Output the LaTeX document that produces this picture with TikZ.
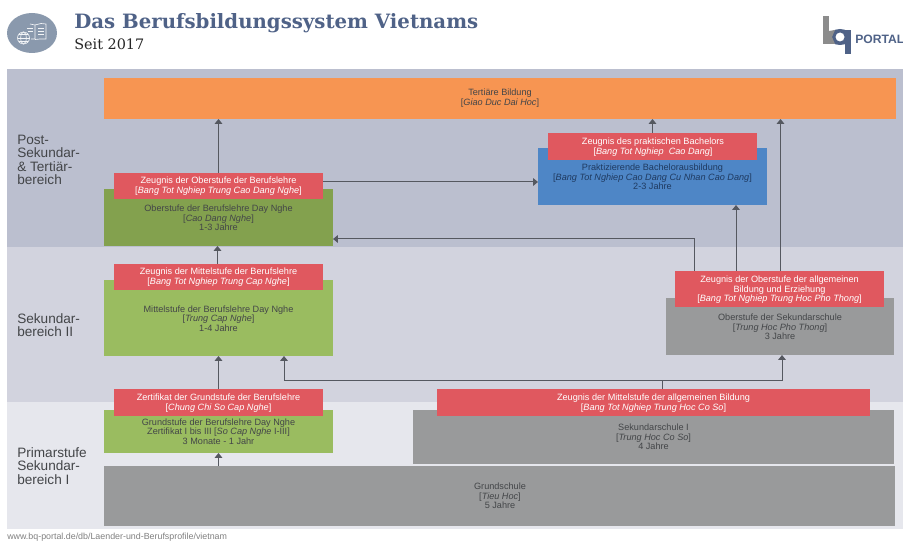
\documentclass[tikz,border=0pt]{standalone}
\usepackage{fontspec}
\setmainfont{Liberation Sans}
\newfontfamily\slab{DejaVu Serif}
\usetikzlibrary{arrows.meta}
\definecolor{bandA}{HTML}{BBBFCF}
\definecolor{bandB}{HTML}{D2D3DE}
\definecolor{bandC}{HTML}{E6E7ED}
\definecolor{cRed}{HTML}{E0585F}
\definecolor{cOrange}{HTML}{F79552}
\definecolor{cDark}{HTML}{83A14E}
\definecolor{cGreen}{HTML}{9ABC60}
\definecolor{cBlue}{HTML}{4E86C6}
\definecolor{cGrey}{HTML}{999A9B}
\definecolor{cTitle}{HTML}{4F6287}
\definecolor{cIcon}{HTML}{8A99AD}
\definecolor{cLine}{HTML}{555860}
\definecolor{cText}{HTML}{434548}
\definecolor{cBlueText}{HTML}{1F3A60}
\newcommand{\rbox}[6]{%
  \pgfmathsetmacro{\rw}{0.75*(#4-#2)}%
  \pgfmathsetmacro{\rh}{0.75*(#5-#3)}%
  \node[rbx,#6,minimum width=\rw pt,minimum height=\rh pt] (#1) at ({(#2+#4)/2},{(#3+#5)/2}) {};}
\tikzset{
  x=0.75pt,y=-0.75pt,
  rbx/.style={inner sep=0pt,outer sep=0pt,draw=none},
  redbox/.style={fill=cRed},
  lbl/.style={align=center,font=\fontsize{6.85pt}{7.2pt}\selectfont,text=cText,inner sep=0pt},
  lblw/.style={lbl,text=white},
  side/.style={align=left,anchor=west,font=\fontsize{10.2pt}{10pt}\selectfont,text=cText,inner sep=0pt},
  arr/.style={draw=cLine,line width=0.75pt,-{Triangle[width=5.6pt,length=3.6pt]}},
  lin/.style={draw=cLine,line width=0.75pt},
}
\begin{document}
\begin{tikzpicture}
\useasboundingbox (0,0) rectangle (903,541);
% bands
\rbox{bandpost}{7}{69}{903}{247}{fill=bandA}
\rbox{bandsek}{7}{247}{903}{402}{fill=bandB}
\rbox{bandprim}{7}{402}{903}{529}{fill=bandC}
% boxes
\rbox{orange}{104}{78}{896}{119}{fill=cOrange}
\rbox{gdark}{104}{189}{333}{246}{fill=cDark}
\rbox{gmid}{104}{280}{333}{356}{fill=cGreen}
\rbox{gbase}{104}{410}{333}{453}{fill=cGreen}
\rbox{grund}{104}{466}{895}{526}{fill=cGrey}
\rbox{seki}{413}{410}{894}{464}{fill=cGrey}
\rbox{oberg}{666}{298}{894}{355}{fill=cGrey}
\rbox{blue}{538}{148}{767}{205}{fill=cBlue}
\rbox{rober}{114}{173}{323}{199}{redbox}
\rbox{rmid}{114}{264}{323}{290}{redbox}
\rbox{rgrund}{114}{389}{323}{416}{redbox}
\rbox{rseki}{437}{389}{870}{416}{redbox}
\rbox{rallg}{675}{271}{884}{307}{redbox}
\rbox{rbach}{548}{133}{757}{160}{redbox}
% connectors
\coordinate (a1) at (323,182);
\coordinate (j1) at (694,239);
\coordinate (j2) at (284,381);
\coordinate (j3) at (782,381);
\coordinate (j4) at (662,381);
\coordinate (v1) at (736,271);
\coordinate (v2) at (780.5,271);
\coordinate (v3) at (652.5,133);
\coordinate (v4) at (217.5,264);
\draw[arr] (rober.north) -- (rober.north |- orange.south);
\draw[arr] (v4) -- (v4 |- gdark.south);
\draw[arr] (rgrund.north) -- (rgrund.north |- gmid.south);
\draw[arr] (j2) -- (j2 |- gmid.south);
\draw[lin] (j2) -- (j3);
\draw[arr] (j3) -- (j3 |- oberg.south);
\draw[lin] (j4) -- (j4 |- rseki.north);
\draw[arr] (grund.north -| rgrund.north) -- (rgrund.north |- gbase.south);
\draw[arr] (a1) -- (a1 -| blue.west);
\draw[arr] (j1 |- rallg.north) -- (j1) -- (j1 -| gdark.east);
\draw[arr] (v1) -- (v1 |- blue.south);
\draw[arr] (v2) -- (v2 |- orange.south);
\draw[arr] (v3) -- (v3 |- orange.south);
% box texts
\node[lbl] (t1) at (500,98) {Tertiäre Bildung\\{}[\textit{Giao Duc Dai Hoc}]};
\node[lblw] (t2) at (218.5,186) {Zeugnis der Oberstufe der Berufslehre\\{}[\textit{Bang Tot Nghiep Trung Cao Dang Nghe}]};
\node[lbl] (t3) at (218.5,218) {Oberstufe der Berufslehre Day Nghe\\{}[\textit{Cao Dang Nghe}]\\1-3 Jahre};
\node[lblw] (t4) at (218.5,277) {Zeugnis der Mittelstufe der Berufslehre\\{}[\textit{Bang Tot Nghiep Trung Cap Nghe}]};
\node[lbl] (t5) at (218.5,318.5) {Mittelstufe der Berufslehre Day Nghe\\{}[\textit{Trung Cap Nghe}]\\1-4 Jahre};
\node[lblw] (t6) at (218.5,403) {Zertifikat der Grundstufe der Berufslehre\\{}[\textit{Chung Chi So Cap Nghe}]};
\node[lbl] (t7) at (218.5,431.5) {Grundstufe der Berufslehre Day Nghe\\Zertifikat I bis III [\textit{So Cap Nghe} I-III]\\3 Monate - 1 Jahr};
\node[lblw] (t8) at (653.5,403) {Zeugnis der Mittelstufe der allgemeinen Bildung\\{}[\textit{Bang Tot Nghiep Trung Hoc Co So}]};
\node[lbl] (t9) at (653.5,437) {Sekundarschule I\\{}[\textit{Trung Hoc Co So}]\\4 Jahre};
\node[lbl] (t10) at (500,496) {Grundschule\\{}[\textit{Tieu Hoc}]\\5 Jahre};
\node[lblw] (t11) at (653,147) {Zeugnis des praktischen Bachelors\\{}[\textit{Bang Tot Nghiep\ \ Cao Dang}]};
\node[lbl,text=cBlueText] (t12) at (652.5,177) {Praktizierende Bachelorausbildung\\{}[\textit{Bang Tot Nghiep Cao Dang Cu Nhan Cao Dang}]\\2-3 Jahre};
\node[lblw] (t13) at (779.5,290) {Zeugnis der Oberstufe der allgemeinen\\Bildung und Erziehung\\{}[\textit{Bang Tot Nghiep Trung Hoc Pho Thong}]};
\node[lbl] (t14) at (780,327) {Oberstufe der Sekundarschule\\{}[\textit{Trung Hoc Pho Thong}]\\3 Jahre};
% side labels
\node[side] (s1) at (17,160) {Post-\\Sekundar-\\\&{} Tertiär-\\bereich};
\node[side] (s2) at (17,325) {Sekundar-\\bereich II};
\node[side] (s3) at (17,466) {Primarstufe\\Sekundar-\\bereich I};
% header
\node[anchor=base west,inner sep=0pt,text=cTitle,font=\slab\bfseries\fontsize{14.8pt}{16pt}\selectfont] (title) at (74,29) {Das Berufsbildungssystem Vietnams};
\node[anchor=base west,inner sep=0pt,text=black!85,font=\slab\fontsize{10.8pt}{12pt}\selectfont] (sub) at (74,50) {Seit 2017};
% icon
\fill[cIcon] (32,33) ellipse [x radius=25,y radius=20];
\begin{scope}[draw=white!90!cIcon,line width=0.5pt]
  \draw (30,24) -- (35,25) -- (35,39) -- (31,39);
  \draw (35,25) -- (41,23.5) -- (46,24) -- (46,39) -- (40,39) -- (35,39.5);
  \draw (38,28) -- (44,28) (38,31) -- (44,31) (38,34) -- (44,34);
  \draw (27,28) -- (33,28) (28,31) -- (33,31);
  \draw (23.5,38) circle [radius=6];
  \draw (23.5,38) ellipse [x radius=2.8,y radius=6];
  \draw (17.5,38) -- (29.5,38) (19,34.5) -- (28,34.5) (19,41.5) -- (28,41.5);
\end{scope}
% logo
\fill[gray!90] (823,16) rectangle (829,44);
\fill[cTitle,even odd rule] (840,37) ellipse [x radius=11,y radius=8] (840,37) circle [radius=4.6];
\fill[gray!90] (829,44) -- (829,31) -- (835,30) -- (832,37) -- (835,44) -- cycle;
\fill[cTitle] (845,30) rectangle (851,54);
\node[anchor=base west,inner sep=0pt,text=cTitle,font=\bfseries\fontsize{9.1pt}{10pt}\selectfont] (portal) at (855,44) {PORTAL};
\node[anchor=base west,inner sep=0pt,text=gray,font=\fontsize{6.65pt}{7pt}\selectfont] (foot) at (7,539) {www.bq-portal.de/db/Laender-und-Berufsprofile/vietnam};
\end{tikzpicture}
\end{document}
